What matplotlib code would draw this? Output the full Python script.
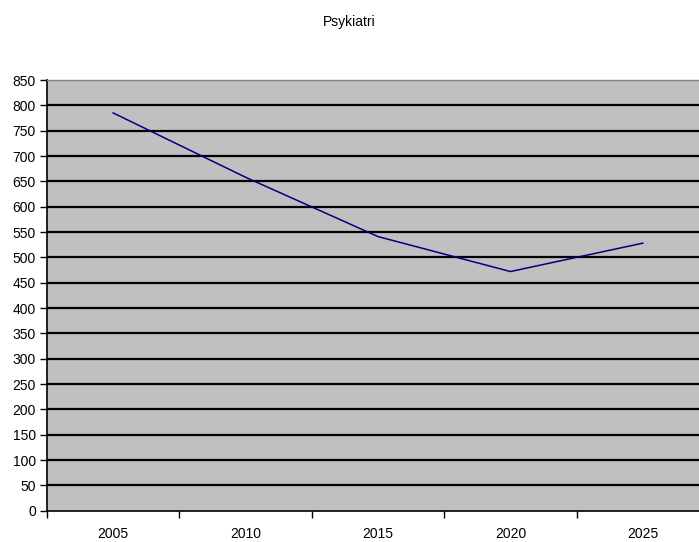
import matplotlib.pyplot as plt

plt.rcParams['font.family'] = ['Liberation Sans', 'DejaVu Sans']

years = ["2005", "2010", "2015", "2020", "2025"]
values = [785, 658, 541, 472, 528]
y_ticks = list(range(0, 851, 50))

fig = plt.figure(figsize=(6.99, 5.42), dpi=100)
# plot area runs past the right edge, as in the original
ax = fig.add_axes([47 / 699, 1 - 510.7 / 542, (709 - 47) / 699, (510.7 - 80) / 542])
ax.set_facecolor("#c0c0c0")

ax.plot(range(len(years)), values, color="#000080", linewidth=1.1)

ax.set_xlim(-0.5, len(years) - 0.5)
ax.set_ylim(0, 850)
ax.set_yticks(y_ticks)
ax.set_yticklabels([str(v) for v in y_ticks], fontsize=10)
for v in y_ticks[1:-1]:
    ax.axhline(v, color="black", linewidth=1.6, zorder=1)

ax.set_xticks(range(len(years)))
ax.set_xticklabels(years, fontsize=10)
ax.tick_params(axis="x", length=0, pad=12)
ax.set_xticks([i + 0.5 for i in range(-1, len(years))], minor=True)
ax.tick_params(axis="x", which="minor", length=5, direction="out", width=1)
ax.tick_params(axis="y", length=5, width=1, pad=3)

for side in ["top", "right"]:
    ax.spines[side].set_color("#808080")
    ax.spines[side].set_linewidth(1)
ax.spines["left"].set_linewidth(1.2)
ax.spines["bottom"].set_linewidth(1.2)

fig.text(0.5, 1 - 22 / 542, "Psykiatri", ha="center", va="center", fontsize=10)

fig.savefig("out.png", dpi=100)
